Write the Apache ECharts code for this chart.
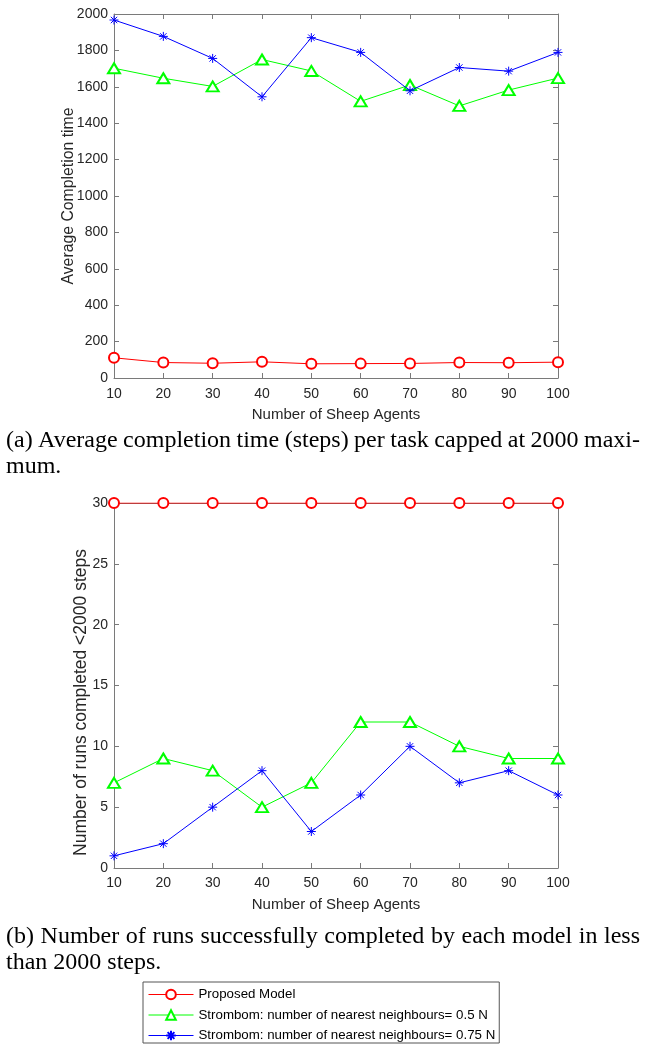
<!DOCTYPE html>
<html><head><meta charset="utf-8">
<script src="https://cdn.jsdelivr.net/npm/echarts/dist/echarts.min.js"></script>
<style>html,body{margin:0;padding:0;background:#fff}#c{width:646px;height:1045px}</style>
</head><body><div id="c"></div>
<script>
// ---- data ----
const sheepAgents = [10, 20, 30, 40, 50, 60, 70, 80, 90, 100];
const seriesNames = ['Proposed Model', 'Strombom: number of nearest neighbours= 0.5 N', 'Strombom: number of nearest neighbours= 0.75 N'];
const proposedTime = [111, 85, 81, 89, 78, 79, 80, 85, 84, 87];
const strombom05Time = [1702, 1647, 1602, 1750, 1687, 1520, 1610, 1495, 1582, 1648];
const strombom075Time = [1967, 1877, 1756, 1545, 1870, 1789, 1578, 1706, 1686, 1789];
const proposedRuns = [30, 30, 30, 30, 30, 30, 30, 30, 30, 30];
const strombom05Runs = [7, 9, 8, 5, 7, 12, 12, 10, 9, 9];
const strombom075Runs = [1, 2, 5, 8, 3, 6, 10, 7, 8, 6];
const captionA = ['(a) Average completion time (steps) per task capped at 2000 maxi-', 'mum.'];
const captionB = ['(b) Number of runs successfully completed by each model in less', 'than 2000 steps.'];

// ---- styling ----
const FONT = "'Liberation Sans', Arial, Helvetica, sans-serif";
const SERIF = "'Liberation Serif', 'Times New Roman', serif";
const axisColor = '#7a7a7a';
const textColor = '#262626';
const colors = ['#ff0000', '#00ff00', '#0000ff'];
const asterisk = 'path://M0,-10L0,10M-10,0L10,0M-7.07,-7.07L7.07,7.07M-7.07,7.07L7.07,-7.07';

function pairs(ys) { return sheepAgents.map((x, i) => [x, ys[i]]); }
const plain = v => String(v);

function xAxes(gi, nameGap, margin) {
  const common = {
    gridIndex: gi, type: 'value', min: 10, max: 100, interval: 10,
    axisLine: { onZero: false, lineStyle: { color: axisColor, width: 1 } },
    axisTick: { inside: true, length: 5, lineStyle: { color: axisColor } },
    splitLine: { show: false }
  };
  return [
    Object.assign({}, common, {
      position: 'bottom', name: 'Number of Sheep Agents', nameLocation: 'middle', nameGap: nameGap,
      nameMoveOverlap: false,
      nameTextStyle: { color: textColor, fontSize: 15, fontFamily: FONT },
      axisLabel: { color: textColor, fontSize: 14, fontFamily: FONT, margin: margin, formatter: plain }
    }),
    Object.assign({}, common, { position: 'top', axisLabel: { show: false } })
  ];
}
function yAxes(gi, max, interval, name, nameGap, nameSize, namePad) {
  const common = {
    gridIndex: gi, type: 'value', min: 0, max: max, interval: interval,
    axisLine: { onZero: false, lineStyle: { color: axisColor, width: 1 } },
    axisTick: { inside: true, length: 5, lineStyle: { color: axisColor } },
    splitLine: { show: false }
  };
  return [
    Object.assign({}, common, {
      position: 'left', name: name, nameLocation: 'middle', nameGap: nameGap,
      nameMoveOverlap: false,
      nameTextStyle: { color: textColor, fontSize: nameSize, fontFamily: FONT, padding: namePad },
      axisLabel: { color: textColor, fontSize: 14, fontFamily: FONT, margin: 6, formatter: plain }
    }),
    Object.assign({}, common, { position: 'right', axisLabel: { show: false } })
  ];
}

function lineSeries(idx, gi, ys) {
  const base = {
    type: 'line', name: seriesNames[idx], data: pairs(ys),
    xAxisIndex: gi * 2, yAxisIndex: gi * 2,
    lineStyle: { color: colors[idx], width: 1 },
    animation: false, z: 2 + idx
  };
  if (idx === 0) {
    base.symbol = 'emptyCircle'; base.symbolSize = 10;
  } else if (idx === 1) {
    base.symbol = 'emptyTriangle'; base.symbolSize = [12, 10];
  } else {
    base.symbol = asterisk; base.symbolSize = 9;
  }
  base.itemStyle = { color: colors[idx], borderColor: colors[idx], borderWidth: 1 };
  return base;
}

// ---- captions (justified first line) ----
const measure = document.createElement('canvas').getContext('2d');
const capSize = 24;
measure.font = capSize + 'px ' + SERIF;
function captionEls(lines, centers, x0, x1) {
  const els = [];
  const words = lines[0].split(' ');
  const widths = words.map(w => measure.measureText(w).width);
  const total = widths.reduce((a, b) => a + b, 0);
  const gap = (x1 - x0 - total) / (words.length - 1);
  let x = x0;
  words.forEach((w, i) => {
    els.push({ type: 'text', x: x, y: centers[0], silent: true,
      style: { text: w, fontSize: capSize, fontFamily: SERIF, fill: '#000', verticalAlign: 'middle', align: 'left' } });
    x += widths[i] + gap;
  });
  els.push({ type: 'text', x: x0, y: centers[1], silent: true,
    style: { text: lines[1], fontSize: capSize, fontFamily: SERIF, fill: '#000', verticalAlign: 'middle', align: 'left' } });
  return els;
}

const chart = echarts.init(document.getElementById('c'), null, { renderer: 'canvas' });
chart.setOption({
  animation: false,
  backgroundColor: '#fff',
  grid: [
    { left: 114, right: 88, top: 14, height: 364 },
    { left: 114, right: 88, top: 503, height: 365 }
  ],
  xAxis: [].concat(xAxes(0, 29, 9), xAxes(1, 29, 8)),
  yAxis: [].concat(
    yAxes(0, 2000, 200, 'Average Completion time', 37, 15.8, 0),
    yAxes(1, 30, 5, 'Number of runs completed <2000 steps', 24, 17.5, [0, 34, 0, 0])
  ),
  legend: {
    data: seriesNames, orient: 'vertical', left: 143, top: 982, height: 120,
    itemWidth: 45, itemHeight: 12, itemGap: 7.5, selectedMode: false,
    borderColor: '#555', borderWidth: 1, borderRadius: 0, padding: [6, 4, 1, 5],
    lineStyle: { width: 1 },
    textStyle: { color: '#000', fontSize: 13.3, fontFamily: FONT }
  },
  series: [
    lineSeries(0, 0, proposedTime), lineSeries(1, 0, strombom05Time), lineSeries(2, 0, strombom075Time),
    lineSeries(0, 1, proposedRuns), lineSeries(1, 1, strombom05Runs), lineSeries(2, 1, strombom075Runs)
  ],
  graphic: [].concat(
    captionEls(captionA, [441, 467], 6, 640),
    captionEls(captionB, [937, 963], 6, 640)
  )
});
</script></body></html>
